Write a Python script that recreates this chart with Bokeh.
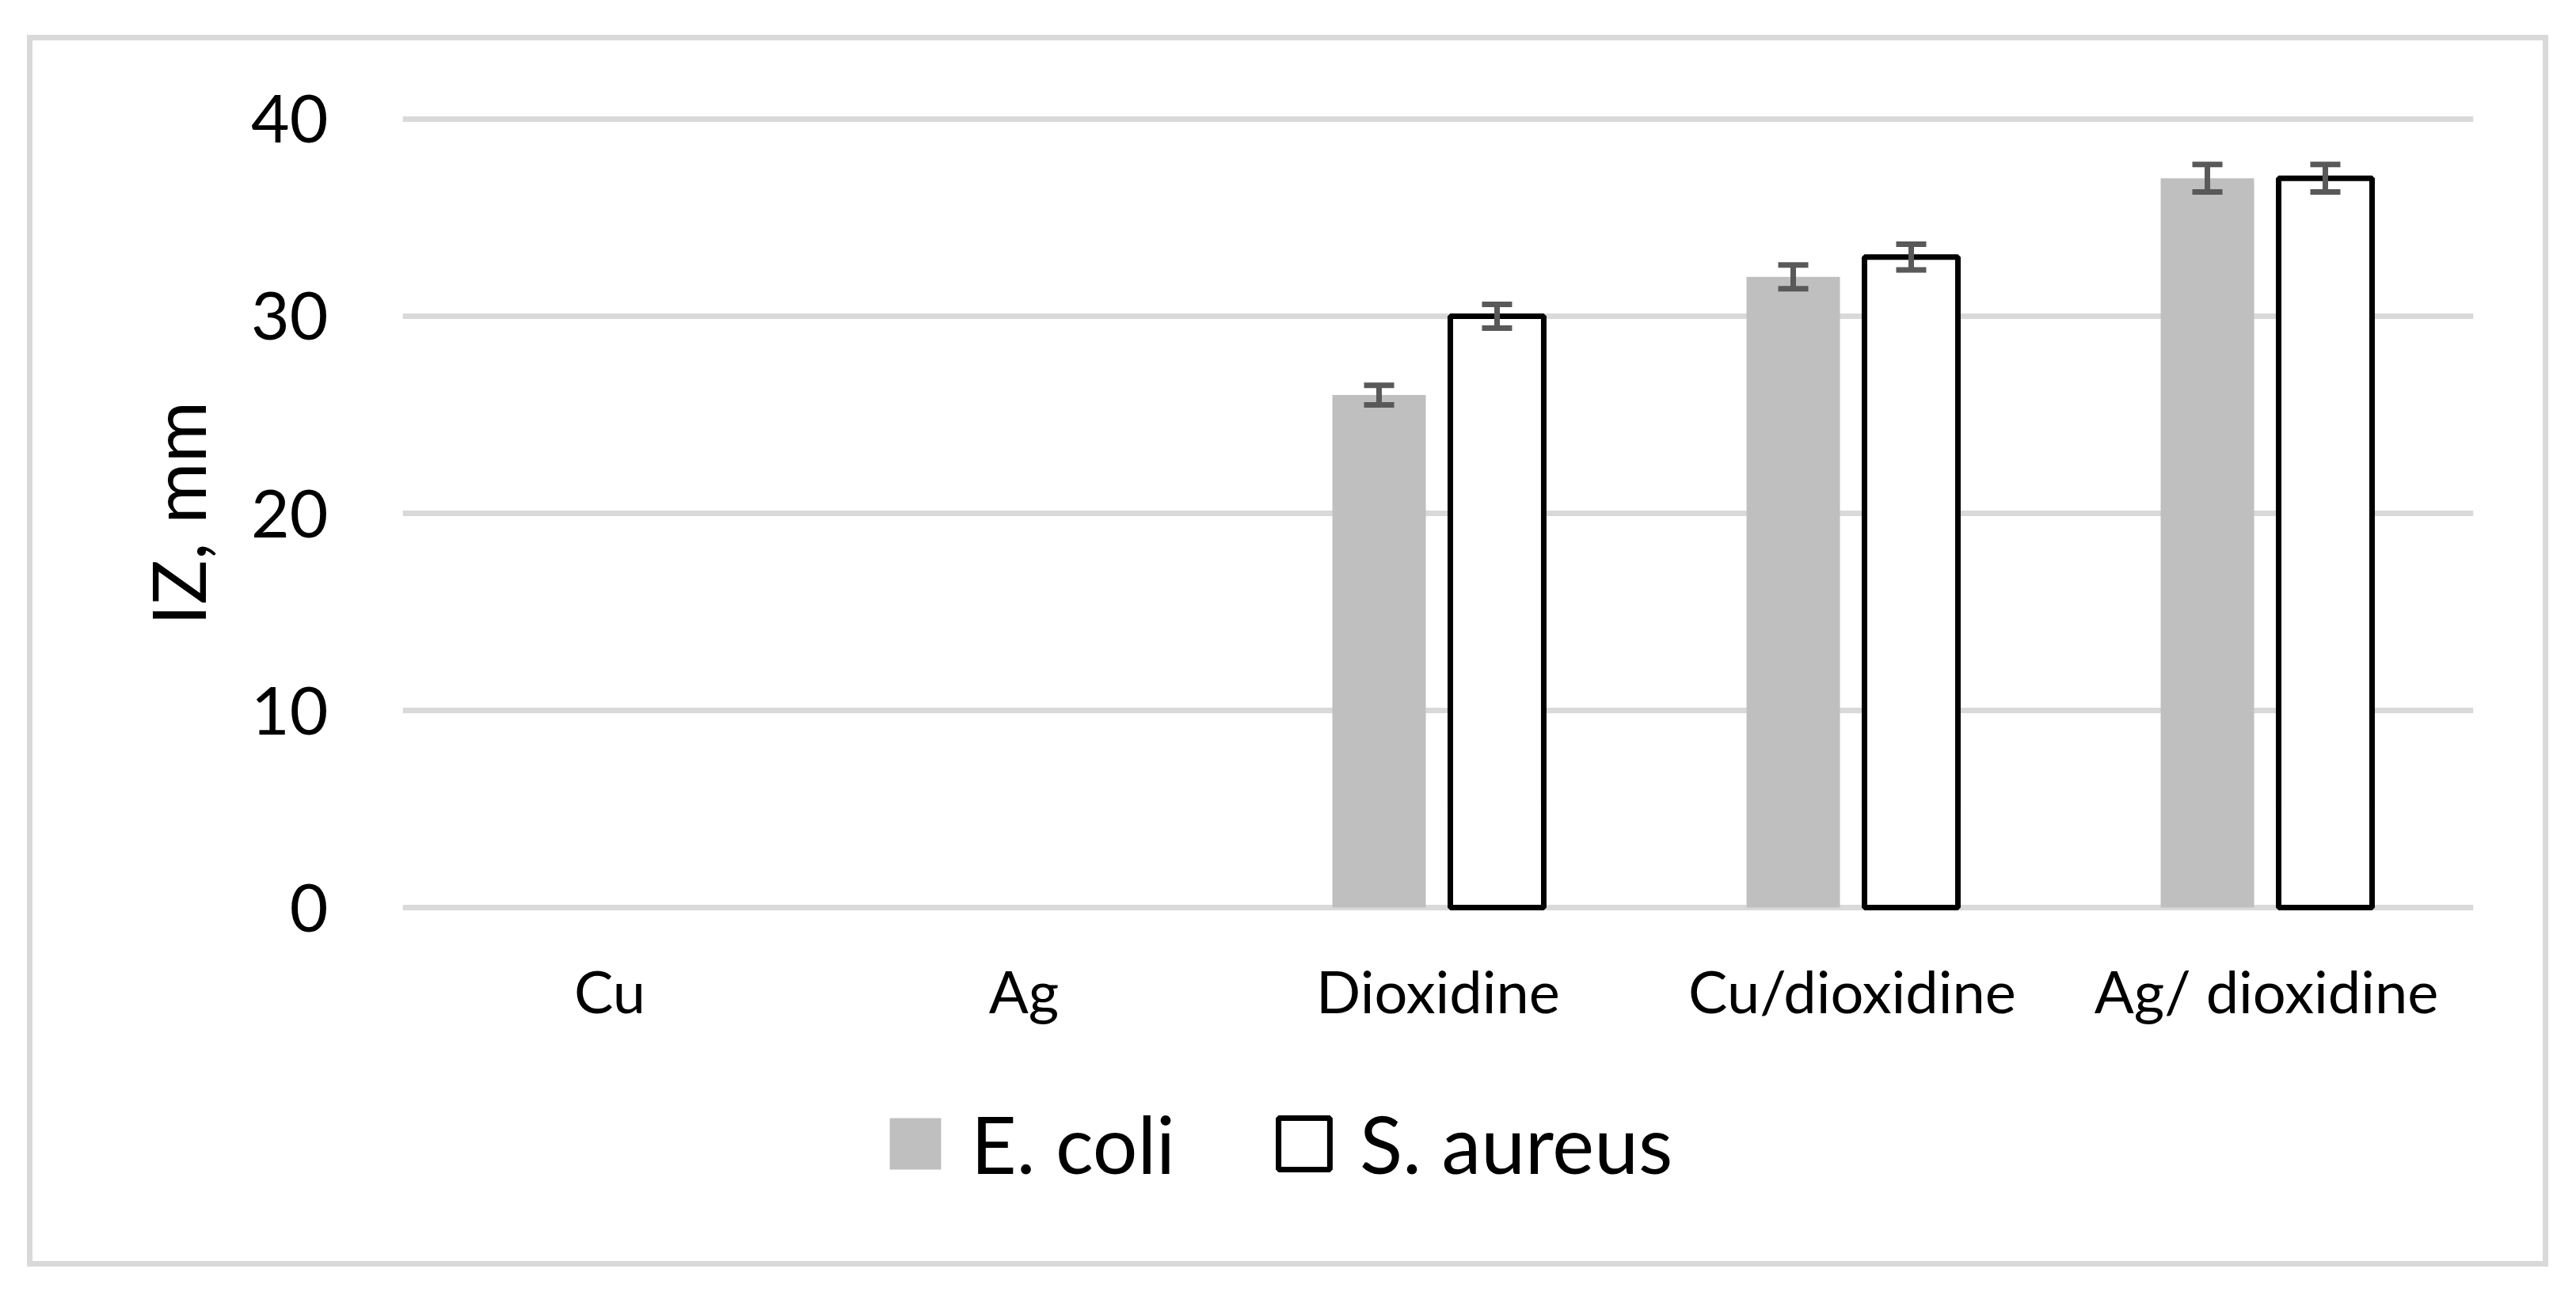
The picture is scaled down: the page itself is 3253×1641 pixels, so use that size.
import pandas as pd
from bokeh.plotting import figure
from bokeh.layouts import column
from bokeh.models import (ColumnDataSource, FactorRange, Range1d, Whisker, TeeHead,
                          Legend, LegendItem, FixedTicker)
from bokeh.transform import dodge
from bokeh.embed import file_html
from bokeh.resources import INLINE

# ---- data ----
categories = ["Cu", "Ag", "Dioxidine", "Cu/dioxidine", "Ag/ dioxidine"]
ecoli = [0, 0, 26, 32, 37]
ecoli_err = [0, 0, 0.5, 0.6, 0.7]
saureus = [0, 0, 30, 33, 37]
saureus_err = [0, 0, 0.6, 0.65, 0.7]
y_ticks = [0, 10, 20, 30, 40]
series_names = ["E. coli", "S. aureus"]
y_label = "IZ, mm"

FONT = "Lato"
OFF = 0.1424
BW = 0.2256
GREY = "#bfbfbf"
ERR = "#595959"

df = pd.DataFrame(dict(cat=categories, ecoli=ecoli, ecoli_err=ecoli_err,
                       saureus=saureus, saureus_err=saureus_err))
df["ecoli_lo"] = df.ecoli - df.ecoli_err
df["ecoli_hi"] = df.ecoli + df.ecoli_err
df["saureus_lo"] = df.saureus - df.saureus_err
df["saureus_hi"] = df.saureus + df.saureus_err

e_src = ColumnDataSource(df[df.ecoli > 0].reset_index(drop=True))
s_src = ColumnDataSource(df[df.saureus > 0].reset_index(drop=True))

W = 3170
H_MAIN = 1289
H_LEG = 1542 - H_MAIN

p = figure(x_range=FactorRange(*categories, range_padding=0),
           y_range=Range1d(-0.2, 40.2),
           width=W, height=H_MAIN, output_backend="svg", toolbar_location=None,
           min_border_left=467, min_border_right=88,
           min_border_top=94, min_border_bottom=H_MAIN - 1100,
           background_fill_color="white", border_fill_color="white")
p.outline_line_color = None

# grid
p.xgrid.visible = False
p.ygrid.grid_line_color = "#d9d9d9"
p.ygrid.grid_line_width = 7
p.yaxis.ticker = FixedTicker(ticks=y_ticks)

# axes
for ax in (p.xaxis[0], p.yaxis[0]):
    ax.axis_line_color = None
    ax.major_tick_line_color = None
    ax.minor_tick_line_color = None
    ax.major_label_text_font = FONT
    ax.major_label_text_color = "black"

p.yaxis.major_label_text_font_size = "84px"
p.yaxis.major_label_standoff = 88
p.yaxis.axis_label = y_label
p.yaxis.axis_label_text_font = FONT
p.yaxis.axis_label_text_font_size = "94px"
p.yaxis.axis_label_text_font_style = "normal"
p.yaxis.axis_label_text_color = "black"
p.yaxis.axis_label_standoff = 34

p.xaxis.major_label_text_font_size = "74px"
p.xaxis.major_label_standoff = 49

# bars
r1 = p.vbar(x=dodge("cat", -OFF, range=p.x_range), top="ecoli", bottom=0, width=BW,
            source=e_src, fill_color=GREY, line_color=None)
r2 = p.vbar(x=dodge("cat", OFF, range=p.x_range), top="saureus", bottom=0, width=BW,
            source=s_src, fill_color="white", line_color="black", line_width=7)

# error bars
for src, off, lo, hi in ((e_src, -OFF, "ecoli_lo", "ecoli_hi"),
                         (s_src, OFF, "saureus_lo", "saureus_hi")):
    w = Whisker(base=dodge("cat", off, range=p.x_range), lower=lo, upper=hi, source=src,
                line_color=ERR, line_width=7, level="overlay",
                upper_head=TeeHead(size=38, line_color=ERR, line_width=7),
                lower_head=TeeHead(size=38, line_color=ERR, line_width=7))
    p.add_layout(w)

# legend strip (same chart area, below the category labels);
# its frame is aligned with the main plot's frame by the column layout
pl = figure(width=W, height=H_LEG, output_backend="svg", toolbar_location=None,
            x_range=Range1d(0, 1), y_range=Range1d(0, 1),
            x_axis_location=None, y_axis_location=None,
            min_border_left=0, min_border_right=0, min_border_top=0, min_border_bottom=0,
            background_fill_color="white", border_fill_color="white")
pl.outline_line_color = None
pl.xgrid.visible = False
pl.ygrid.visible = False
# legend-only swatch renderers (hidden; they only supply the legend glyph styles)
l1 = pl.vbar(x=[0], top=[0], width=0, fill_color=GREY, line_color=None, visible=False)
l2 = pl.vbar(x=[0], top=[0], width=0, fill_color="white", line_color="black",
             line_width=7, visible=False)

legend = Legend(items=[LegendItem(label=series_names[0], renderers=[l1]),
                       LegendItem(label=series_names[1], renderers=[l2])],
                orientation="horizontal", location=(607, 89),
                glyph_width=81, glyph_height=81,
                label_text_font=FONT, label_text_font_size="100px",
                label_text_color="black",
                label_standoff=30, spacing=122, padding=0, margin=0,
                inactive_fill_alpha=0,
                border_line_color=None, background_fill_alpha=0)
pl.add_layout(legend, "center")

layout = column(p, pl, width=W, height=1542, spacing=0,
                styles={"margin-left": "41px", "margin-top": "51px",
                        "box-shadow": "0 0 0 7px #d9d9d9"})

open("out.html", "w").write(file_html(layout, INLINE))
